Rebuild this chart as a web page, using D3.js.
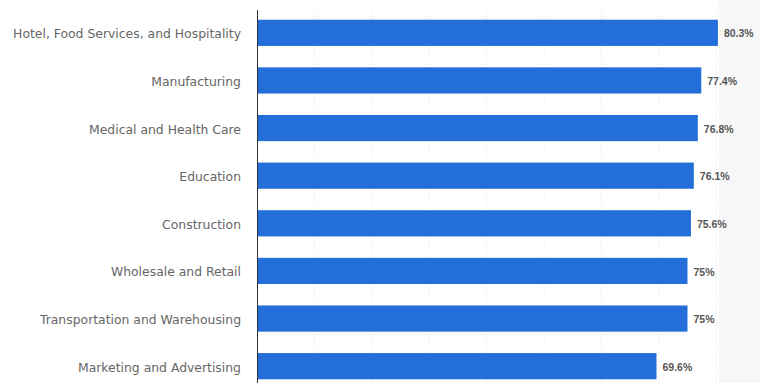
<!DOCTYPE html>
<html>
<head>
<meta charset="utf-8">
<script src="https://cdn.jsdelivr.net/npm/d3@7"></script>
<style>
  body { margin: 0; background: #fff; }
  svg { display: block; font-family: "DejaVu Sans", sans-serif; }
</style>
</head>
<body>
<svg id="chart" width="760" height="383"></svg>
<script>
// data
const industries = [
  "Hotel, Food Services, and Hospitality",
  "Manufacturing",
  "Medical and Health Care",
  "Education",
  "Construction",
  "Wholesale and Retail",
  "Transportation and Warehousing",
  "Marketing and Advertising"
];
const shares = [80.3, 77.4, 76.8, 76.1, 75.6, 75, 75, 69.6];
const valueLabels = ["80.3%", "77.4%", "76.8%", "76.1%", "75.6%", "75%", "75%", "69.6%"];
const gridTicks = [10, 20, 30, 40, 50, 60, 70, 80];

let svg = d3.select("#chart");
let width = +svg.attr("width");
let height = +svg.attr("height");

let x0 = 257; // left edge of the plot (axis line)
let xScale = d3.scaleLinear()
  .domain([0, 80])
  .range([x0, x0 + 80 * 5.74]);

let yScale = d3.scaleBand()
  .domain(industries)
  .range([9, 390])
  .paddingInner(0.45)
  .paddingOuter(0.225);

let rows = industries.map((name, i) => ({ name: name, value: shares[i], label: valueLabels[i] }));

// light band on the right side
svg.append("rect")
  .attr("x", xScale(80) + 3)
  .attr("y", 0)
  .attr("width", width - xScale(80) - 3)
  .attr("height", height)
  .attr("fill", "#f7f7f7");

// dotted vertical grid
svg.append("g")
  .selectAll("line")
  .data(gridTicks)
  .enter()
  .append("line")
  .attr("x1", d => xScale(d))
  .attr("x2", d => xScale(d))
  .attr("y1", 10)
  .attr("y2", height)
  .attr("stroke", "#e4e4e4")
  .attr("stroke-dasharray", "1,2");

// bars
svg.append("g")
  .selectAll("rect")
  .data(rows)
  .enter()
  .append("rect")
  .attr("x", xScale(0))
  .attr("y", d => yScale(d.name))
  .attr("width", d => xScale(d.value) - xScale(0))
  .attr("height", yScale.bandwidth())
  .attr("fill", "#236ed8");

// value labels
svg.append("g")
  .selectAll("text")
  .data(rows)
  .enter()
  .append("text")
  .attr("x", d => xScale(d.value) + 6)
  .attr("y", d => yScale(d.name) + yScale.bandwidth() / 2 + 1)
  .attr("dy", "0.35em")
  .attr("font-family", "'Liberation Sans', sans-serif")
  .attr("font-size", 10.5)
  .attr("font-weight", "bold")
  .attr("fill", "#555")
  .text(d => d.label);

// category axis
let yAxis = d3.axisLeft(yScale).tickSize(0).tickPadding(16);
let axisG = svg.append("g")
  .attr("transform", "translate(" + x0 + ",1.5)")
  .call(yAxis);
axisG.select(".domain").remove();
axisG.selectAll("text")
  .attr("font-family", "'DejaVu Sans', sans-serif")
  .attr("font-size", 12.4)
  .attr("fill", "#666");

svg.append("line")
  .attr("x1", x0 + 0.5)
  .attr("x2", x0 + 0.5)
  .attr("y1", 10)
  .attr("y2", height)
  .attr("stroke", "#333")
  .attr("stroke-width", 1);
</script>
</body>
</html>
